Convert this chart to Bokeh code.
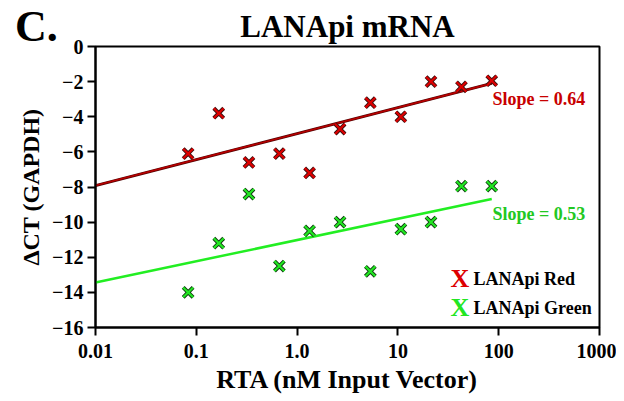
from bokeh.plotting import figure
from bokeh.models import FixedTicker, Label, ColumnDataSource, Div
from bokeh.layouts import column
from bokeh.embed import file_html
from bokeh.resources import INLINE

# ---- data ----
rta = [0.083, 0.167, 0.333, 0.667, 1.33, 2.67, 5.33, 10.7, 21.3, 42.7, 85.3]
red_ct = [-6.1, -3.8, -6.6, -6.1, -7.2, -4.7, -3.2, -4.0, -2.0, -2.3, -1.95]
green_ct = [-14.0, -11.2, -8.4, -12.5, -10.5, -10.0, -12.8, -10.4, -10.0, -7.95, -7.95]
fit_x = [0.01, 85.3]
red_fit = [-7.92, -2.1]
green_fit = [-13.44, -8.68]
x_ticks = [0.01, 0.1, 1, 10, 100, 1000]
x_tick_labels = ["0.01", "0.1", "1.0", "10", "100", "1000"]
y_ticks = [0, -2, -4, -6, -8, -10, -12, -14, -16]
red_slope = "Slope = 0.64"
green_slope = "Slope = 0.53"
series_names = ["LANApi Red", "LANApi Green"]
panel_letter = "C."

RED = "#dd0000"
RED_LINE = "#b80000"
GREEN = "#22e622"
GREEN_LINE = "#22ee22"
FONT = "Liberation Serif"

p = figure(width=616, height=397, x_axis_type="log", x_range=(0.01, 1000), y_range=(-16, 0),
           output_backend="svg", toolbar_location=None,
           min_border_left=95, min_border_right=17, min_border_top=46, min_border_bottom=70)
p.grid.visible = False
p.outline_line_color = "black"
p.outline_line_width = 2
p.background_fill_color = "white"
p.border_fill_color = "white"

p.title.text = "LANApi mRNA"
p.title.align = "center"
p.title.text_font = FONT
p.title.text_font_style = "bold"
p.title.text_font_size = "31px"
p.title.text_color = "black"
p.title.standoff = 6

for ax in (p.xaxis[0], p.yaxis[0]):
    ax.axis_line_width = 2
    ax.axis_line_color = "black"
    ax.major_tick_line_width = 2
    ax.major_tick_out = 8
    ax.major_tick_in = 0
    ax.minor_tick_line_color = None
    ax.major_label_text_font = FONT
    ax.major_label_text_font_style = "bold"
    ax.major_label_text_font_size = "20px"
    ax.major_label_text_color = "black"
    ax.axis_label_text_font = FONT
    ax.axis_label_text_font_style = "bold"
    ax.axis_label_text_color = "black"

p.xaxis.ticker = FixedTicker(ticks=x_ticks)
p.xaxis.major_label_overrides = {t: l for t, l in zip(x_ticks, x_tick_labels)}
p.xaxis.axis_label = "RTA (nM Input Vector)"
p.xaxis.axis_label_text_font_size = "26px"
p.xaxis.major_label_standoff = 8
p.xaxis.axis_label_standoff = 4

p.yaxis.ticker = FixedTicker(ticks=y_ticks)
p.yaxis.axis_label = "ΔCT (GAPDH)"
p.yaxis.axis_label_text_font_size = "24px"
p.yaxis.major_label_standoff = 4
p.yaxis.axis_label_standoff = 5

def lab(text, x, y, size, color, align="left", baseline="middle"):
    l = Label(x=x, y=y, x_units="screen", y_units="screen", text=text, text_font=FONT,
              text_font_style="bold", text_font_size=size, text_color=color,
              text_align=align, text_baseline=baseline)
    p.add_layout(l)
    return l

# fit lines
p.line(fit_x, red_fit, line_color="#500000", line_width=2.8)
p.line(fit_x, red_fit, line_color=RED_LINE, line_width=1.6)
p.line(fit_x, green_fit, line_color=GREEN_LINE, line_width=2.5)

# markers: dark outline then coloured stroke
src = ColumnDataSource(dict(x=rta, r=red_ct, g=green_ct))
p.scatter("x", "r", source=src, marker="x", size=14, line_color="#3a1010", line_width=4)
p.scatter("x", "r", source=src, marker="x", size=14, line_color=RED, line_width=2.2)
p.scatter("x", "g", source=src, marker="x", size=14, line_color="#103a10", line_width=4)
p.scatter("x", "g", source=src, marker="x", size=14, line_color=GREEN, line_width=2.2)

# slope labels
lab(red_slope, 397, 229, "18px", "#c80000")
lab(green_slope, 397, 114, "18px", "#22c822")

# legend
lab("X", 355, 49, "26px", RED)
lab("X", 355, 20, "26px", GREEN)
lab(series_names[0], 378, 49, "18px", "black")
lab(series_names[1], 378, 20, "18px", "black")

# panel letter in the top-left corner, over the plot's border area
letter = Div(text=panel_letter, width=60, height=44,
             styles={"position": "absolute", "left": "10px", "top": "0px", "z-index": "5",
                     "font-family": FONT, "font-weight": "bold", "font-size": "44px",
                     "line-height": "1", "color": "black"})

layout = column(letter, p)
open("out.html", "w").write(file_html(layout, INLINE))
